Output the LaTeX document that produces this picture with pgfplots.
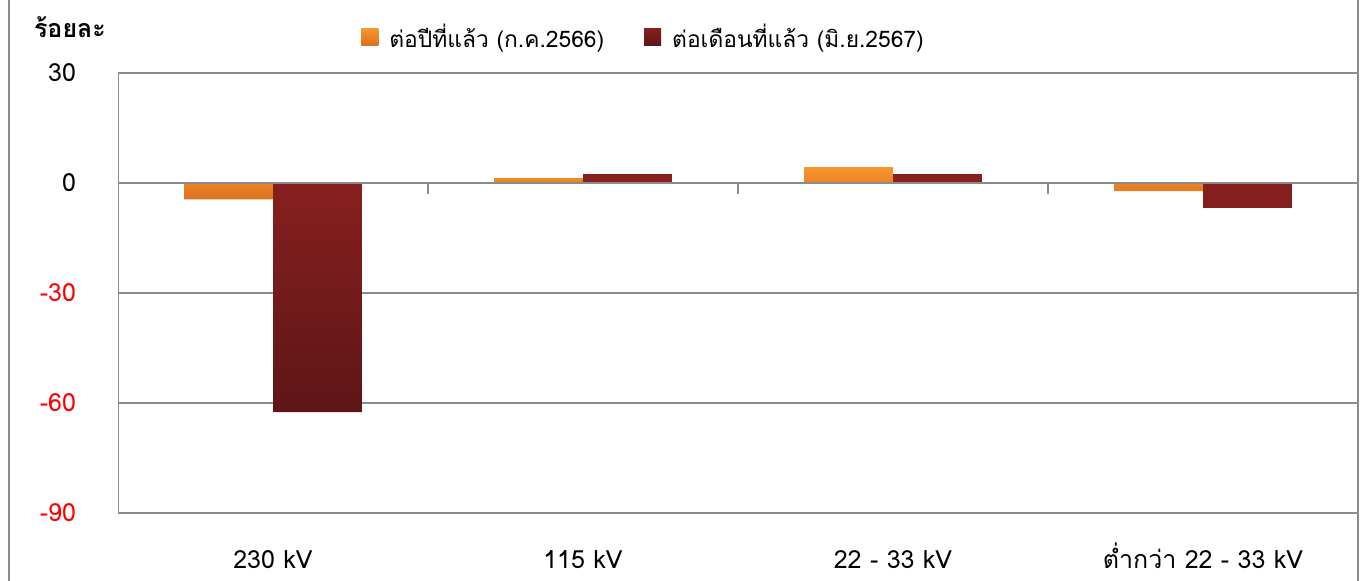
\documentclass[border=0pt]{standalone}
\usepackage{fontspec}
\setmainfont[Script=Thai]{Loma}
\usepackage{pgfplots}
\pgfplotsset{compat=1.18}
\definecolor{gridgray}{HTML}{8C8C8C}
\definecolor{orT}{HTML}{F9962E}
\definecolor{orB}{HTML}{DB721F}
\definecolor{drT}{HTML}{88201F}
\definecolor{drB}{HTML}{5E1517}
\begin{document}
\begin{tikzpicture}
\useasboundingbox (0,0) rectangle (682.5pt,290.5pt);
\begin{axis}[
  at={(59pt,34pt)}, anchor=south west,
  scale only axis, width=620pt, height=220pt,
  xmin=-0.5, xmax=3.5, ymin=-90, ymax=30,
  ybar=0pt, bar width=0.287,
  axis line style={draw=none},
  ymajorgrids, grid style={gridgray, line width=1pt},
  major tick length=0pt,
  ytick={-90,-60,-30,0,30},
  yticklabels={\textcolor{red}{-90},\textcolor{red}{-60},\textcolor{red}{-30},0,30},
  xtick={0,1,2,3},
  xticklabels={230 kV,115 kV,22 - 33 kV,ต่ำกว่า 22 - 33 kV},
  tick label style={font=\fontsize{12.5pt}{14pt}\selectfont},
  xticklabel style={anchor=base, yshift=-28pt},
  yticklabel style={anchor=east, xshift=-17.5pt},
  legend columns=2,
  legend style={at={(axis description cs:0.196,1.082)}, anchor=west, draw=none,
    inner sep=0pt, font=\fontsize{11.4pt}{13pt}\selectfont,
    /tikz/every odd column/.append style={column sep=3.5pt},
    /tikz/every even column/.append style={column sep=18pt}},
  legend cell align=left,
]
\addplot[draw=none, top color=orT, bottom color=orB,
  legend image code/.code={\fill[top color=orT, bottom color=orB] (0pt,-4.2pt) rectangle (8.5pt,4.2pt);}]
  coordinates {(0,-4.5) (1,1.3) (2,4.3) (3,-2.2)};
\addplot[draw=none, top color=drT, bottom color=drB,
  legend image code/.code={\fill[top color=drT, bottom color=drB] (0pt,-4.2pt) rectangle (8.5pt,4.2pt);}]
  coordinates {(0,-62.5) (1,2.4) (2,2.4) (3,-6.8)};
\legend{ต่อปีที่แล้ว (ก.ค.2566),ต่อเดือนที่แล้ว (มิ.ย.2567)}
\draw[gridgray, line width=1pt] (rel axis cs:0,0) -- (rel axis cs:0,1);
\draw[gridgray, line width=1pt] (axis cs:-0.5,0) -- (axis cs:3.5,0);
\draw[gridgray, line width=1pt] (axis cs:0.5,0) -- ([yshift=-5.5pt]axis cs:0.5,0);
\draw[gridgray, line width=1pt] (axis cs:1.5,0) -- ([yshift=-5.5pt]axis cs:1.5,0);
\draw[gridgray, line width=1pt] (axis cs:2.5,0) -- ([yshift=-5.5pt]axis cs:2.5,0);
\end{axis}
\draw[gridgray, line width=1pt] (4.5pt,0) -- (4.5pt,290.5pt);
\draw[gridgray, line width=1pt] (679pt,0) -- (679pt,290.5pt);
\node[anchor=west, font=\bfseries\fontsize{12.5pt}{14pt}\selectfont] at (13.5pt,277pt) {ร้อยละ};
\end{tikzpicture}
\end{document}
